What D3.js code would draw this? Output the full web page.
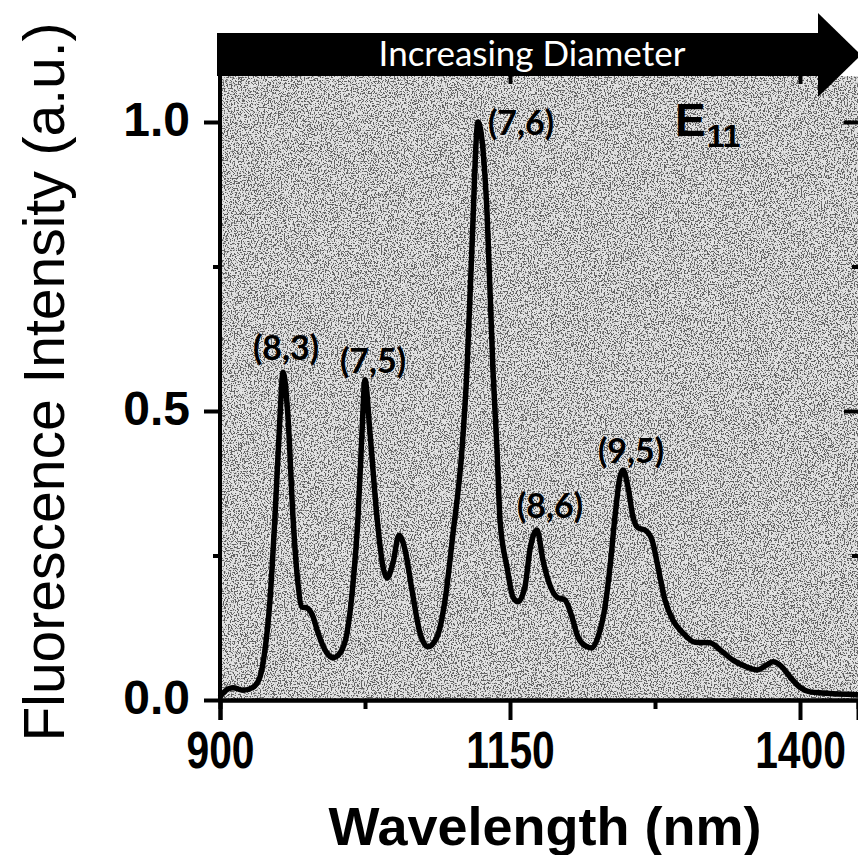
<html>
<head>
    <script src="https://d3js.org/d3.v7.min.js"></script>
    <style>
        body { margin: 0; background: white; }
    </style>
</head>

<body>
    <svg id="plot"></svg>

    <script>
        // spectrum (nm, normalised intensity)
        var wavelength = [900, 902.6, 911.2, 919.8, 928.4, 934.5, 938.8, 943.1, 947.4, 951.7,
            954.3, 958.6, 962.9, 967.2, 970.7, 975.0, 980.2, 984.5, 992.2, 997.4,
            1003.4, 1009.5, 1014.7, 1019.0, 1022.4, 1025.0, 1029.3, 1035.3, 1040.5, 1044.0,
            1049.1, 1054.3, 1059.5, 1065.5, 1072.4, 1079.3, 1087.1, 1094.0, 1100.9, 1108.6,
            1112.9, 1117.2, 1122.4, 1130.2, 1135.3, 1138.8, 1141.4, 1147.4, 1152.6, 1156.9,
            1162.9, 1167.2, 1173.3, 1178.4, 1182.8, 1190.5, 1197.4, 1203.4, 1208.6, 1216.4,
            1220.7, 1225.9, 1231.9, 1236.2, 1240.5, 1244.8, 1247.4, 1251.7, 1256.0, 1260.3,
            1266.4, 1272.4, 1277.6, 1283.6, 1290.5, 1299.1, 1309.5, 1322.4, 1331.0, 1342.2,
            1354.3, 1362.9, 1371.6, 1376.7, 1384.5, 1391.4, 1400.0, 1408.6, 1419.8, 1450];
        var intensity = [0.005, 0.012, 0.021, 0.017, 0.022, 0.040, 0.087, 0.173, 0.317, 0.490,
            0.567, 0.490, 0.317, 0.202, 0.161, 0.159, 0.144, 0.116, 0.081, 0.073,
            0.081, 0.116, 0.202, 0.317, 0.462, 0.554, 0.462, 0.317, 0.230, 0.211,
            0.237, 0.285, 0.260, 0.190, 0.116, 0.092, 0.109, 0.173, 0.289, 0.433,
            0.571, 0.784, 1.000, 0.843, 0.571, 0.433, 0.311, 0.230, 0.178, 0.170,
            0.196, 0.260, 0.294, 0.242, 0.208, 0.178, 0.173, 0.144, 0.109, 0.092,
            0.090, 0.109, 0.161, 0.230, 0.317, 0.386, 0.398, 0.369, 0.317, 0.298,
            0.294, 0.277, 0.230, 0.173, 0.138, 0.116, 0.100, 0.099, 0.087, 0.069,
            0.057, 0.052, 0.061, 0.066, 0.057, 0.040, 0.022, 0.014, 0.012, 0.009];

        // chirality labels: text, wavelength of centre, intensity of baseline
        var peakNames = ["(8,3)", "(7,5)", "(7,6)", "(8,6)", "(9,5)"];
        var peakNm    = [956.9, 1031.9, 1159.5, 1184.5, 1254.3];
        var peakY     = [0.588, 0.566, 0.977, 0.315, 0.410];

        var xTicks = [900, 1150, 1400],
            xMinor = [1025, 1275],
            yTicks = [0, 0.5, 1.0],
            yMinor = [0.25, 0.75];

        var SizeX = 858,
            SizeY = 855,
            Plot = { left: 220, right: 858, top: 76, bottom: 700 };

        var svg = d3.select("#plot")
            .attr("width", SizeX)
            .attr("height", SizeY);

        var x_scale = d3.scaleLinear()
                        .domain([900, 1450])
                        .range([Plot.left, Plot.right]);
        var y_scale = d3.scaleLinear()
                        .domain([0, 1])
                        .range([Plot.bottom, 122]);

        // speckled grey background, like the scanned original
        var defs = svg.append("defs");
        var f = defs.append("filter").attr("id", "speckle")
            .attr("filterUnits", "userSpaceOnUse")
            .attr("x", Plot.left).attr("y", Plot.top)
            .attr("width", Plot.right - Plot.left).attr("height", Plot.bottom - Plot.top);
        f.append("feTurbulence")
            .attr("type", "fractalNoise")
            .attr("baseFrequency", 0.7)
            .attr("numOctaves", 2)
            .attr("seed", 3)
            .attr("result", "noise");
        f.append("feColorMatrix")
            .attr("in", "noise")
            .attr("type", "matrix")
            .attr("values", "0 0 0 0 0.12  0 0 0 0 0.12  0 0 0 0 0.12  12 0 0 0 -6.1")
            .attr("result", "dots");
        var merge = f.append("feMerge");
        merge.append("feMergeNode").attr("in", "SourceGraphic");
        merge.append("feMergeNode").attr("in", "dots");

        svg.append("rect")
            .attr("x", Plot.left).attr("y", Plot.top)
            .attr("width", Plot.right - Plot.left)
            .attr("height", Plot.bottom - Plot.top)
            .attr("fill", "#e2e2e2")
            .attr("filter", "url(#speckle)");

        // spectrum
        var line = d3.line()
            .x(function(d, i){ return x_scale(wavelength[i]); })
            .y(function(d){ return y_scale(d); })
            .curve(d3.curveMonotoneX);

        svg.append("path")
            .datum(intensity)
            .attr("d", line)
            .attr("fill", "none")
            .attr("stroke", "black")
            .attr("stroke-width", 5.5)
            .attr("stroke-linejoin", "round");

        // axes
        function styleAxis(g, width) {
            g.selectAll(".domain").attr("stroke-width", width);
            g.selectAll(".tick line").attr("stroke-width", 4);
        }

        var xb = svg.append("g").attr("transform", "translate(0," + Plot.bottom + ")");
        xb.append("g").call(d3.axisBottom(x_scale).tickValues(xMinor).tickSize(9).tickFormat(""))
            .call(styleAxis, 4);
        xb.append("g").call(d3.axisBottom(x_scale).tickValues(xTicks).tickSize(20).tickPadding(12)
                .tickFormat(d3.format("d")))
            .call(styleAxis, 4)
            .selectAll("text")
                .attr("font-family", "'Liberation Sans', Arial, sans-serif")
                .attr("font-weight", "bold")
                .attr("font-size", 51)
                .attr("transform", "scale(0.8,1)")
                .attr("fill", "black");

        var yl = svg.append("g").attr("transform", "translate(" + Plot.left + ",0)");
        yl.append("g").call(d3.axisLeft(y_scale).tickValues(yMinor).tickSize(7).tickFormat(""))
            .call(styleAxis, 4);
        yl.append("g").call(d3.axisLeft(y_scale).tickValues(yTicks).tickSize(16).tickPadding(14)
                .tickFormat(d3.format(".1f")))
            .call(styleAxis, 4)
            .selectAll("text")
                .attr("font-family", "'Liberation Sans', Arial, sans-serif")
                .attr("font-weight", "bold")
                .attr("font-size", 48)
                .attr("dy", "0.28em")
                .attr("fill", "black");
        yl.selectAll(".domain").attr("d", "M0," + Plot.top + "V" + Plot.bottom);

        // right ticks (inward)
        var yr = svg.append("g").attr("transform", "translate(" + (Plot.right + 2) + ",0)");
        yr.append("g").call(d3.axisLeft(y_scale).tickValues(yTicks.slice(1)).tickSize(16).tickFormat(""))
            .call(styleAxis, 0);
        yr.append("g").call(d3.axisLeft(y_scale).tickValues(yMinor).tickSize(8).tickFormat(""))
            .call(styleAxis, 0);

        // top ticks (inward, peeking out under the arrow)
        var xt = svg.append("g").attr("transform", "translate(0," + Plot.top + ")");
        xt.append("g").call(d3.axisBottom(x_scale).tickValues(xTicks.slice(1)).tickSize(8).tickFormat(""))
            .call(styleAxis, 0);

        // "Increasing Diameter" arrow
        var arrow = svg.append("g");
        arrow.append("rect")
            .attr("x", 217).attr("y", 33)
            .attr("width", 603).attr("height", 43)
            .attr("fill", "black");
        arrow.append("path")
            .attr("d", "M818,13 L861,55 L818,97 Z")
            .attr("fill", "black");
        arrow.append("text")
            .attr("x", 532).attr("y", 66)
            .attr("text-anchor", "middle")
            .attr("font-family", "Lato, 'Open Sans', sans-serif")
            .attr("font-size", 35)
            .attr("fill", "white")
            .text("Increasing Diameter");

        // peak labels
        svg.selectAll(".peak")
            .data(peakNames)
            .enter()
                .append("text").classed("peak", true)
                    .attr("x", function(d, i){ return x_scale(peakNm[i]); })
                    .attr("y", function(d, i){ return y_scale(peakY[i]); })
                    .attr("text-anchor", "middle")
                    .attr("font-family", "Lato, 'Open Sans', sans-serif")
                    .attr("font-weight", "bold")
                    .attr("font-size", 34)
                    .attr("fill", "black")
                    .text(function(d){ return d; });

        // E11
        var e11 = svg.append("text")
            .attr("x", x_scale(1292.2)).attr("y", y_scale(0.976))
            .attr("font-family", "'Liberation Sans', Arial, sans-serif")
            .attr("font-weight", "bold")
            .attr("font-size", 46)
            .attr("fill", "black");
        e11.append("tspan").text("E");
        e11.append("tspan").attr("font-size", 32).attr("dy", 11).attr("dx", 1).text("11");

        // axis titles
        svg.append("text")
            .attr("x", 545).attr("y", 845)
            .attr("text-anchor", "middle")
            .attr("font-family", "'Liberation Sans', Arial, sans-serif")
            .attr("font-weight", "bold")
            .attr("font-size", 54)
            .text("Wavelength (nm)");

        svg.append("text")
            .attr("transform", "translate(64,382) rotate(-90)")
            .attr("text-anchor", "middle")
            .attr("font-family", "'Liberation Sans', Arial, sans-serif")
            .attr("font-size", 57)
            .text("Fluorescence Intensity (a.u.)");
    </script>
</body>
</html>
